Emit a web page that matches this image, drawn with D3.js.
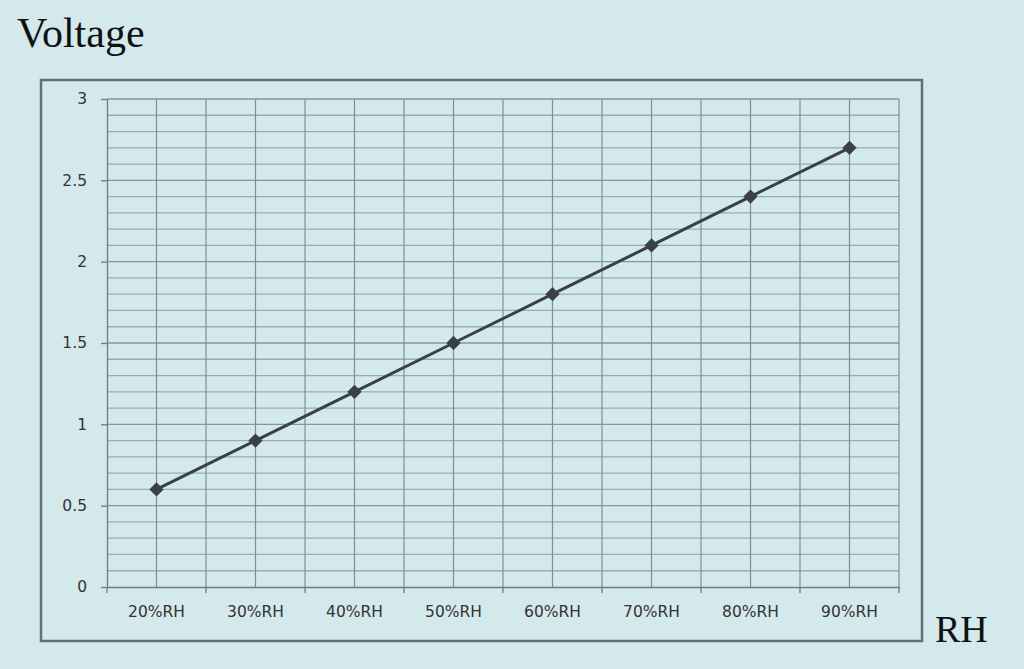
<!DOCTYPE html>
<html>
<head>
<meta charset="utf-8">
<script src="https://cdn.jsdelivr.net/npm/d3@7"></script>
<style>
  body { margin: 0; background: #d4e9ec; }
  svg { display: block; }
</style>
</head>
<body>
<div id="chart"></div>
<script>
// data
const categories = ["20%RH", "30%RH", "40%RH", "50%RH", "60%RH", "70%RH", "80%RH", "90%RH"];
const voltage = [0.6, 0.9, 1.2, 1.5, 1.8, 2.1, 2.4, 2.7];
const yTicks = [0, 0.5, 1, 1.5, 2, 2.5, 3];

const W = 1024, H = 669;
const plot = { left: 107, right: 899, top: 99, bottom: 587 };

const svg = d3.select("#chart").append("svg")
  .attr("width", W)
  .attr("height", H);

svg.append("rect").attr("width", W).attr("height", H).attr("fill", "#d4e9ec");

// outer chart frame
svg.append("rect")
  .attr("x", 41).attr("y", 80)
  .attr("width", 881).attr("height", 561)
  .attr("fill", "#d4e9ec")
  .attr("stroke", "#5f7178")
  .attr("stroke-width", 2.5);

const x = d3.scaleBand().domain(categories).range([plot.left, plot.right]).padding(0);
const y = d3.scaleLinear().domain([0, 3]).range([plot.bottom, plot.top]);

// minor horizontal grid every 0.1
const minor = d3.range(1, 31).map(d => d / 10);
svg.append("g")
  .selectAll("line")
  .data(minor)
  .join("line")
  .attr("x1", plot.left).attr("x2", plot.right)
  .attr("y1", d => y(d)).attr("y2", d => y(d))
  .attr("stroke", d => (Math.round(d * 10) % 5 === 0) ? "#7f98a3" : "#94adb8")
  .attr("stroke-width", 1.3);

// vertical grid at band edges and centres
const vlines = [];
categories.forEach(c => {
  vlines.push(x(c));
  vlines.push(x(c) + x.bandwidth() / 2);
});
vlines.push(plot.right);
svg.append("g")
  .selectAll("line")
  .data(vlines.slice(1))
  .join("line")
  .attr("x1", d => d).attr("x2", d => d)
  .attr("y1", plot.top).attr("y2", plot.bottom)
  .attr("stroke", "#7a8f99")
  .attr("stroke-width", 1.2);

const tickFont = "'DejaVu Sans', Verdana, sans-serif";

// y axis
const yAxis = svg.append("g")
  .attr("transform", `translate(${plot.left},0)`)
  .call(d3.axisLeft(y).tickValues(yTicks).tickSize(6).tickSizeOuter(0).tickPadding(14)
    .tickFormat(d3.format("")));
yAxis.select(".domain").attr("stroke", "#6a7c84").attr("stroke-width", 1.3);
yAxis.selectAll(".tick line").attr("stroke", "#6a7c84").attr("stroke-width", 1.3);
yAxis.selectAll("text")
  .attr("font-family", tickFont)
  .attr("font-size", 15.5)
  .attr("fill", "#333");

// x axis
const xAxis = svg.append("g")
  .attr("transform", `translate(0,${plot.bottom})`)
  .call(d3.axisBottom(x).tickSize(0).tickPadding(19));
xAxis.select(".domain").attr("stroke", "#6a7c84").attr("stroke-width", 1.3);
xAxis.selectAll("text")
  .attr("font-family", tickFont)
  .attr("font-size", 15.5)
  .attr("fill", "#333");
// tick marks at band boundaries
svg.append("g")
  .selectAll("line")
  .data(categories.map(c => x(c)).concat([plot.right]))
  .join("line")
  .attr("x1", d => d).attr("x2", d => d)
  .attr("y1", plot.bottom).attr("y2", plot.bottom + 6)
  .attr("stroke", "#6a7c84")
  .attr("stroke-width", 1.3);

// series line
const cx = c => x(c) + x.bandwidth() / 2;
const line = d3.line()
  .x((d, i) => cx(categories[i]))
  .y(d => y(d));

svg.append("path")
  .datum(voltage)
  .attr("d", line)
  .attr("fill", "none")
  .attr("stroke", "#3a3f4b")
  .attr("stroke-width", 3);

svg.append("g")
  .selectAll("path")
  .data(voltage)
  .join("path")
  .attr("d", d3.symbol().type(d3.symbolDiamond2).size(130))
  .attr("transform", (d, i) => `translate(${cx(categories[i])},${y(d)})`)
  .attr("fill", "#3a3f4b");

// axis titles
svg.append("text")
  .attr("x", 17).attr("y", 47)
  .attr("font-family", "'Liberation Serif', 'Times New Roman', serif")
  .attr("font-size", 42)
  .attr("fill", "#111")
  .text("Voltage");

svg.append("text")
  .attr("x", 935).attr("y", 642)
  .attr("font-family", "'Liberation Serif', 'Times New Roman', serif")
  .attr("font-size", 38)
  .attr("fill", "#111")
  .text("RH");
</script>
</body>
</html>
